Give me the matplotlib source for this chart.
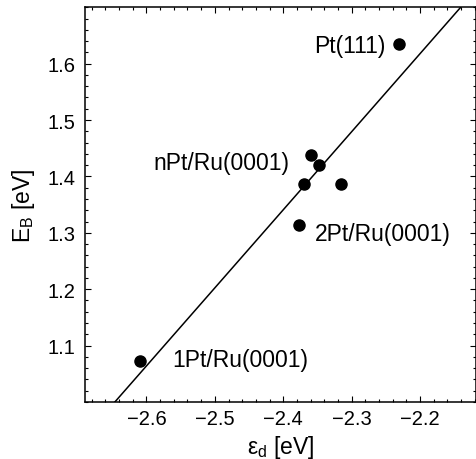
import matplotlib
matplotlib.use('Agg')
import matplotlib.pyplot as plt
from matplotlib.ticker import MultipleLocator
import numpy as np

# d-band centre vs CO binding energy
eps_d = [-2.610, -2.377, -2.369, -2.360, -2.347, -2.315, -2.230]
E_B = [1.072, 1.313, 1.386, 1.438, 1.421, 1.386, 1.635]

labels = ['Pt(111)', 'nPt/Ru(0001)', '2Pt/Ru(0001)', '1Pt/Ru(0001)']

plt.rcParams['font.family'] = ['Liberation Sans', 'DejaVu Sans']
plt.rcParams['mathtext.fontset'] = 'custom'
plt.rcParams['mathtext.rm'] = 'Liberation Sans'
plt.rcParams['mathtext.it'] = 'Liberation Sans:italic'
plt.rcParams['mathtext.fallback'] = 'stixsans'

fig = plt.figure(figsize=(4.77, 4.60), dpi=100)
ax = fig.add_axes([0.178, 0.124, 0.820, 0.858])

# linear fit through the points
k, b = np.polyfit(eps_d, E_B, 1)
xl = np.array([-2.7, -2.1])
ax.plot(xl, k*xl + b, color='black', lw=1.1)

ax.plot(eps_d, E_B, 'o', color='black', ms=8, zorder=3)

# label anchors (data coords)
fs = 16.5
ax.text(-2.251, 1.632, labels[0], ha='right', va='center', fontsize=fs)
ax.text(-2.590, 1.425, labels[1], ha='left', va='center', fontsize=fs)
ax.text(-2.353, 1.298, labels[2], ha='left', va='center', fontsize=fs)
ax.text(-2.563, 1.076, labels[3], ha='left', va='center', fontsize=fs)

ax.set_xlim(-2.69, -2.118)
ax.set_ylim(1.0, 1.70)
ax.xaxis.set_minor_locator(MultipleLocator(0.02))
ax.yaxis.set_minor_locator(MultipleLocator(0.02))
ax.set_yticks([1.1, 1.2, 1.3, 1.4, 1.5, 1.6])
ax.set_xticks([-2.6, -2.5, -2.4, -2.3, -2.2])

ax.tick_params(which='both', direction='in', top=True, right=True, width=0.8)
ax.tick_params(which='major', length=4, labelsize=14.5)
ax.tick_params(which='minor', length=2)
ax.tick_params(axis='x', pad=5)
ax.tick_params(axis='y', pad=7)
for s in ax.spines.values():
    s.set_linewidth(1.1)

ax.set_xlabel(r'$\mathrm{\epsilon}_\mathrm{d}$ [eV]', fontsize=fs, labelpad=4)
ax.set_ylabel(r'E$_\mathrm{B}$ [eV]', fontsize=fs, labelpad=7)

fig.savefig('out.png', dpi=100)
